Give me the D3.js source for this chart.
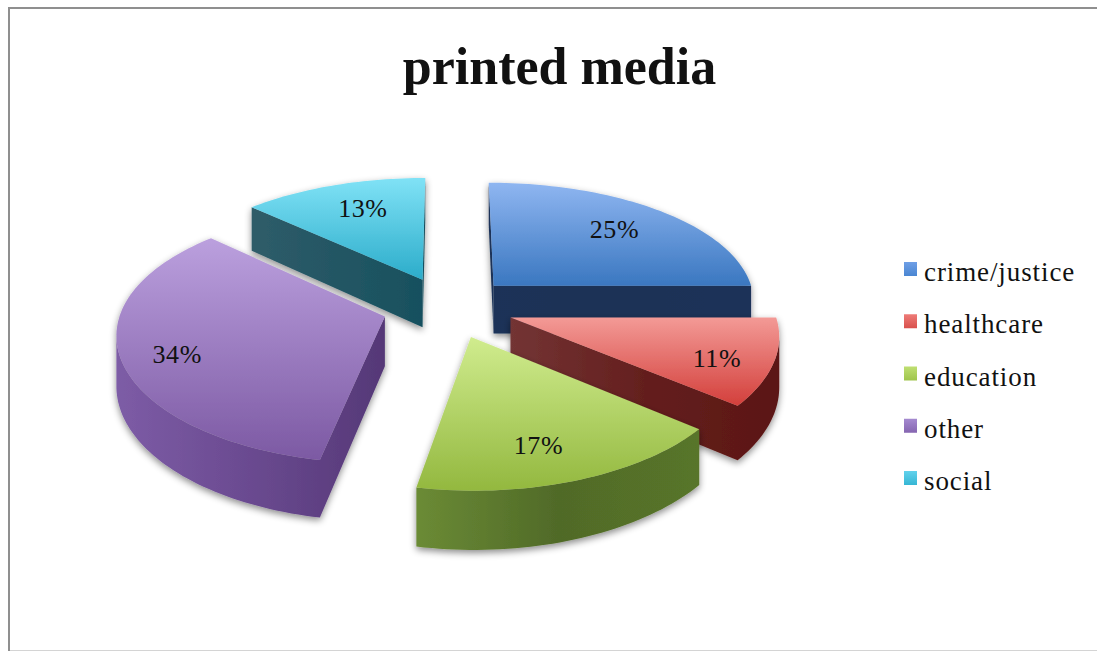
<!DOCTYPE html>
<html>
<head>
<meta charset="utf-8">
<script src="https://cdn.jsdelivr.net/npm/d3@7"></script>
<style>
  html, body { margin: 0; padding: 0; background: #fff; }
  svg { display: block; }
  text { font-family: "Liberation Serif", serif; fill: #111; }
</style>
</head>
<body>
<svg id="chart" width="1097" height="651"></svg>
<script>
const categories = ["crime/justice", "healthcare", "education", "other", "social"];
const shares = [25, 11, 17, 34, 13];
const chartTitle = "printed media";

// Per-slice colours: top face gradient, then side wall gradient (left to right)
const topLight = ["#8fb6f1", "#f39a96", "#d0ec8e", "#bba0de", "#80e2f6"];
const topDark = ["#3a77c0", "#d33f3b", "#93b83f", "#7c59a3", "#2bacca"];
const wallLeft = ["#1b3358", "#733434", "#6b8b35", "#7d5ca6", "#2f5c68"];
const wallMid = ["#1a3156", "#641f1e", "#506a28", "#6a4a90", "#235664"];
const wallRight = ["#1c3359", "#5b1614", "#587529", "#553877", "#17505e"];
const swatchLight = ["#6f9fe6", "#ee7c78", "#bfdf72", "#a58ad0", "#62d2ec"];
const swatchDark = ["#4a86d2", "#d9504c", "#9fc44c", "#8565b0", "#36b6d4"];

const svg = d3.select("#chart");
const defs = svg.append("defs");

// Tilted-plane projection of the pie
const centre = { x: 448, y: 307 };
const radiusX = 263, radiusY = 123, perspectiveX = 0.12, perspectiveY = 0.14, explode = 0.25, depth = 49;
const sx = d3.scaleLinear().domain([0, 1]).range([centre.x, centre.x + radiusX]);
const sy = d3.scaleLinear().domain([0, 1]).range([centre.y, centre.y + radiusY]);
const project = (X, Y, drop = 0) => {
  const px = 1 / (1 - perspectiveX * Y);
  const py = 1 / (1 - perspectiveY * Y);
  return [sx(X * px), sy(Y * py) + drop * py];
};

const arcs = d3.pie().sort(null).value(d => d)(shares);
const line = d3.line();

const shadow = defs.append("filter").attr("id", "soft-shadow")
  .attr("x", "-10%").attr("y", "-10%").attr("width", "120%").attr("height", "125%");
shadow.append("feDropShadow").attr("dx", 0).attr("dy", 3)
  .attr("stdDeviation", 3.5).attr("flood-color", "#000").attr("flood-opacity", 0.45);

function gradient(id, x1, y1, x2, y2, colours) {
  const g = defs.append("linearGradient").attr("id", id)
    .attr("gradientUnits", "userSpaceOnUse")
    .attr("x1", x1).attr("y1", y1).attr("x2", x2).attr("y2", y2);
  colours.forEach((c, k) => g.append("stop")
    .attr("offset", k / (colours.length - 1)).attr("stop-color", c));
  return `url(#${id})`;
}

// Describe every slice in plane coordinates, offset along its mid angle
const slices = arcs.map((a, i) => {
  const mid = (a.startAngle + a.endAngle) / 2;
  const ox = explode * Math.sin(mid), oy = -explode * Math.cos(mid);
  const steps = Math.max(8, Math.ceil((a.endAngle - a.startAngle) * 40));
  const rim = d3.range(steps + 1).map(k => {
    const t = a.startAngle + (a.endAngle - a.startAngle) * k / steps;
    return [ox + Math.sin(t), oy - Math.cos(t)];
  });
  return { i, mid, apex: [ox, oy], rim };
});

const wallPath = (pts) => {
  const top = pts.map(([X, Y]) => project(X, Y));
  const bottom = pts.map(([X, Y]) => project(X, Y, depth)).reverse();
  return line(top.concat(bottom)) + "Z";
};

// Back slices first so nearer ones overlap them
const drawOrder = [4, 0, 3, 1, 2];
drawOrder.forEach(i => {
  const s = slices[i];
  const g = svg.append("g").attr("class", "slice").attr("filter", "url(#soft-shadow)");
  const outline = [s.apex, ...s.rim, s.apex];
  const screen = outline.map(([X, Y]) => project(X, Y));
  const xs = screen.map(d => d[0]), ys = screen.map(d => d[1]);
  const wallFill = gradient(`wall-${i}`, d3.min(xs), 0, d3.max(xs), 0,
    [wallLeft[i], wallMid[i], wallRight[i]]);

  // A wall shows only where the clockwise outline runs leftward on screen;
  // consecutive visible edges are joined into one continuous wall.
  let run = [];
  const flush = () => {
    if (run.length > 1) g.append("path").attr("d", wallPath(run)).attr("fill", wallFill);
    run = [];
  };
  d3.pairs(outline).forEach(([a, b]) => {
    if (project(...b)[0] < project(...a)[0]) {
      if (!run.length) run.push(a);
      run.push(b);
    } else flush();
  });
  flush();

  g.append("path").attr("d", line(screen) + "Z")
    .attr("fill", gradient(`top-${i}`, 0, d3.min(ys), 0, d3.max(ys), [topLight[i], topDark[i]]));
});

// Percentage labels sit along each slice's mid angle
const labelReach = 0.75;
const labelNudge = [[-5, 2], [11, 8], [-10, 6], [-11, 8], [9, 2]];
slices.forEach(s => {
  const [x, y] = project(
    s.apex[0] + labelReach * Math.sin(s.mid),
    s.apex[1] - labelReach * Math.cos(s.mid));
  svg.append("text").attr("x", x + labelNudge[s.i][0]).attr("y", y + labelNudge[s.i][1] + 8)
    .attr("text-anchor", "middle").attr("font-size", 26).attr("letter-spacing", 0.6)
    .text(shares[s.i] + "%");
});

svg.append("text").attr("x", 559.5).attr("y", 84).attr("text-anchor", "middle")
  .attr("font-size", 52).attr("font-weight", "bold").text(chartTitle);

// Legend
const legendY = d3.scalePoint().domain(categories).range([269, 478]);
categories.forEach((c, i) => {
  const y = legendY(c);
  svg.append("rect").attr("x", 904).attr("y", y - 7).attr("width", 13).attr("height", 14)
    .attr("fill", gradient(`swatch-${i}`, 0, y - 7, 0, y + 7, [swatchLight[i], swatchDark[i]]));
  svg.append("text").attr("x", 924).attr("y", y + 12).attr("font-size", 27)
    .attr("letter-spacing", 0.9).text(c);
});

// Frame around the chart area
const frame = svg.append("g").attr("fill", "none");
frame.append("path").attr("d", line([[9, 651], [9, 8], [1097, 8]]))
  .attr("stroke", "#8f8f8f").attr("stroke-width", 2);
frame.append("path").attr("d", line([[10, 650.5], [1097, 650.5]]))
  .attr("stroke", "#d4d4d4").attr("stroke-width", 1);
</script>
</body>
</html>
